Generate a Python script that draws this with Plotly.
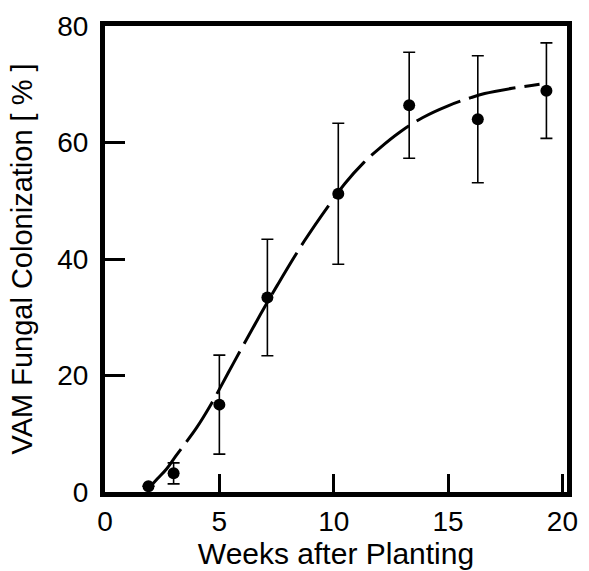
import plotly.graph_objects as go

# Observed data (weeks after planting, % colonization, +/- error)
weeks = [1.9, 3.0, 5.0, 7.1, 10.2, 13.3, 16.3, 19.3]
colonization = [1.0, 3.2, 15.0, 33.4, 51.2, 66.4, 64.0, 68.9]
error = [0.0, 1.8, 8.5, 10.0, 12.1, 9.1, 10.9, 8.2]

# Fitted curve
curve_weeks = [2.0, 2.3, 2.7, 3.1, 4.0, 4.6, 5.6, 6.8, 7.55, 8.7, 9.8, 10.5, 11.3,
               12.0, 12.9, 13.9, 15.0, 16.0, 16.6, 17.8, 19.0]
curve_values = [1.0, 2.3, 4.0, 6.2, 11.0, 14.8, 22.0, 30.5, 35.6, 43.0, 49.3, 53.0, 56.5,
                59.0, 61.8, 64.3, 66.3, 67.7, 68.4, 69.3, 70.0]

x_ticks = [0, 5, 10, 15, 20]
y_ticks = [0, 20, 40, 60, 80]

fig = go.Figure()
fig.add_trace(go.Scatter(
    x=curve_weeks, y=curve_values, mode="lines",
    line=dict(color="black", width=3, dash="48px,9px", shape="spline"),
    hoverinfo="skip", showlegend=False,
))
fig.add_trace(go.Scatter(
    x=weeks, y=colonization, mode="markers",
    marker=dict(color="black", size=12),
    error_y=dict(type="data", array=error, visible=True,
                 color="black", thickness=1.6, width=6),
    showlegend=False,
))

tick_font = dict(family="Liberation Sans", size=28, color="black")
xtitle_font = dict(family="Liberation Sans", size=30, color="black")
ytitle_font = dict(family="Liberation Sans", size=29, color="black")
fig.update_layout(
    width=589, height=571,
    margin=dict(l=105, r=11, t=17, b=75),
    paper_bgcolor="white", plot_bgcolor="white",
    font=tick_font,
)
fig.update_xaxes(
    range=[0, 20.2], tickvals=x_ticks, ticktext=[str(v) for v in x_ticks],
    showline=True, linecolor="black", linewidth=5, mirror=True,
    ticks="inside", ticklen=18, tickwidth=3, tickcolor="black",
    showgrid=False, zeroline=False,
    title=dict(text="Weeks after Planting", font=xtitle_font, standoff=2),
    tickfont=tick_font,
)
fig.update_yaxes(
    range=[0, 80], tickvals=y_ticks, ticktext=[str(v) for v in y_ticks],
    showline=True, linecolor="black", linewidth=5, mirror=True,
    ticks="inside", ticklen=20, tickwidth=3, tickcolor="black",
    showgrid=False, zeroline=False,
    title=dict(text="VAM Fungal Colonization [ % ]", font=ytitle_font, standoff=18),
    tickfont=tick_font, ticklabelstandoff=6,
)
fig.write_html(
    "out.html",
    config={"displayModeBar": False},
    post_script="document.body.style.margin='0';document.body.style.overflow='hidden';",
)
